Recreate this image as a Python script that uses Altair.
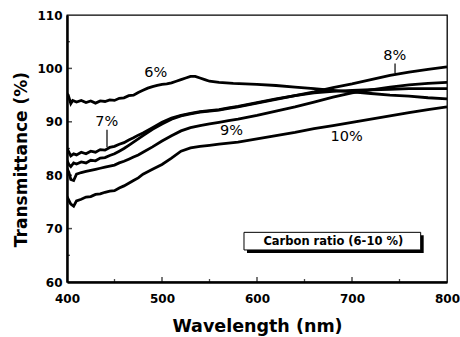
import altair as alt
import pandas as pd

# ---- data ----
wl6 = [400,402,404,406,410,415,420,425,430,435,440,445,450,455,460,465,470,475,480,485,490,495,500,505,510,515,520,525,530,535,540,545,550,560,575,600,620,640,660,680,700,720,740,760,780,800]
t6 = [95.3,94.6,93.4,94.0,93.7,94.0,93.6,93.9,93.5,93.9,93.8,94.1,94.0,94.4,94.5,94.9,95.0,95.5,95.9,96.3,96.6,96.8,97.0,97.1,97.3,97.6,97.9,98.2,98.5,98.5,98.2,97.9,97.6,97.4,97.2,97.0,96.8,96.5,96.2,95.9,95.6,95.3,95.0,94.8,94.5,94.3]

wl = [400,402,404,407,410,415,420,425,430,435,440,445,450,455,460,465,470,475,480,490,500,510,520,530,540,550,560,570,580,600,620,640,660,680,700,720,740,760,780,800]
t7 = [85.0,84.3,83.6,84.0,83.8,84.3,84.0,84.5,84.3,84.8,84.7,85.2,85.4,85.8,86.1,86.6,87.0,87.5,87.9,88.9,89.9,90.7,91.2,91.6,91.9,92.1,92.3,92.6,92.9,93.6,94.3,94.9,95.4,95.7,95.9,96.0,96.1,96.2,96.2,96.2]
t8 = [82.8,82.0,81.6,82.3,82.1,82.5,82.3,82.8,82.7,83.2,83.3,83.7,84.0,84.5,85.0,85.6,86.2,86.8,87.4,88.6,89.6,90.5,91.1,91.5,91.8,92.0,92.2,92.5,92.8,93.5,94.2,94.9,95.6,96.4,97.1,97.9,98.7,99.3,99.8,100.3]
t9 = [81.3,80.5,79.2,79.0,80.2,80.5,80.7,80.9,81.1,81.3,81.5,81.7,81.9,82.3,82.6,83.0,83.4,83.8,84.3,85.3,86.4,87.4,88.3,88.9,89.3,89.6,89.9,90.2,90.5,91.2,92.0,92.8,93.7,94.6,95.4,96.0,96.5,96.9,97.2,97.4]
t10 = [76.0,75.3,74.6,74.2,75.2,75.5,75.9,76.0,76.4,76.5,76.8,77.0,77.1,77.6,78.0,78.5,79.0,79.5,80.2,81.1,82.0,83.2,84.5,85.1,85.4,85.6,85.8,86.0,86.2,86.8,87.4,88.0,88.7,89.3,89.9,90.5,91.1,91.7,92.3,92.8]

series_names = ["6%", "7%", "8%", "9%", "10%"]

# curve labels (text, wavelength, transmittance)
lab_text = ["6%", "7%", "8%", "9%", "10%"]
lab_wl = [493.4, 441.8, 745.0, 573.2, 694.4]
lab_val = [99.1, 89.9, 102.4, 88.2, 87.2]

# leader lines (wavelength, from, to)
lead_wl = [442.1, 745.3]
lead_y1 = [88.5, 100.9]
lead_y2 = [85.3, 99.1]

# legend box
box_text = "Carbon ratio (6-10 %)"
box_x = [586.3, 772.3]
box_y = [66.0, 69.3]
box_center = [680.3, 67.5]

# axis ticks
x_major = [500, 600, 700]
x_minor = [450, 550, 650, 750]
y_major = [70, 80, 90, 100]
y_minor = [65, 75, 85, 95, 105]

# ---- build tables ----
rows = []
for w, t in zip(wl6, t6):
    rows.append({"wl": w, "T": t, "s": "6%"})
for name, arr in zip(series_names[1:], [t7, t8, t9, t10]):
    for w, t in zip(wl, arr):
        rows.append({"wl": w, "T": t, "s": name})
df = pd.DataFrame(rows)

xs = alt.Scale(domain=[400, 800], nice=False, zero=False)
ys = alt.Scale(domain=[60, 110], nice=False, zero=False)

FONT = "DejaVu Sans"

lines = alt.Chart(df).mark_line(color="black", strokeWidth=2.8, clip=True).encode(
    x=alt.X("wl:Q", scale=xs, axis=alt.Axis(
        values=[400, 500, 600, 700, 800], format="d", title="Wavelength (nm)",
        labelFont=FONT, labelFontWeight="bold", labelFontSize=12, labelColor="black",
        labelPadding=11, labelFlush=False, labelOverlap=False,
        ticks=False, tickSize=0, grid=False,
        domainColor="black", domainWidth=2.5,
        titleFont=FONT, titleFontWeight="bold", titleFontSize=17.5, titleColor="black",
        titleY=49, titleBaseline="alphabetic")),
    y=alt.Y("T:Q", scale=ys, axis=alt.Axis(
        values=[60, 70, 80, 90, 100, 110], format="d", title="Transmittance (%)",
        labelFont=FONT, labelFontWeight="bold", labelFontSize=12, labelColor="black",
        labelPadding=5, labelFlush=False, labelOverlap=False,
        ticks=False, tickSize=0, grid=False,
        domainColor="black", domainWidth=2.5,
        titleFont=FONT, titleFontWeight="bold", titleFontSize=17, titleColor="black",
        titleX=-41, titleY=144, titleBaseline="alphabetic")),
    detail="s:N",
)

labdf = pd.DataFrame({"text": lab_text, "wl": lab_wl, "T": lab_val})
labels = alt.Chart(labdf).mark_text(font=FONT, fontSize=14.5, color="black",
                                    align="center", baseline="middle").encode(
    x=alt.X("wl:Q", scale=xs), y=alt.Y("T:Q", scale=ys), text="text:N")

leaddf = pd.DataFrame({"wl": lead_wl, "y1": lead_y1, "y2": lead_y2})
leaders = alt.Chart(leaddf).mark_rule(color="black", strokeWidth=1.2).encode(
    x=alt.X("wl:Q", scale=xs), y=alt.Y("y1:Q", scale=ys), y2="y2:Q")

boxdf = pd.DataFrame({"x1": [box_x[0]], "x2": [box_x[1]], "y1": [box_y[0]], "y2": [box_y[1]],
                      "cx": [box_center[0]], "cy": [box_center[1]], "text": [box_text]})
shadow = alt.Chart(boxdf).mark_rect(color="black", xOffset=3, x2Offset=3, yOffset=3, y2Offset=3).encode(
    x=alt.X("x1:Q", scale=xs), x2="x2:Q", y=alt.Y("y1:Q", scale=ys), y2="y2:Q")
box = alt.Chart(boxdf).mark_rect(fill="white", stroke="black", strokeWidth=1).encode(
    x=alt.X("x1:Q", scale=xs), x2="x2:Q", y=alt.Y("y1:Q", scale=ys), y2="y2:Q")
boxtext = alt.Chart(boxdf).mark_text(font=FONT, fontWeight="bold", fontSize=11.5, color="black",
                                     align="center", baseline="middle").encode(
    x=alt.X("cx:Q", scale=xs), y=alt.Y("cy:Q", scale=ys), text="text:N")

xt_major = alt.Chart(pd.DataFrame({"v": x_major, "b": [60] * len(x_major)})).mark_tick(
    orient="vertical", color="black", size=5, thickness=1.5, yOffset=-2.5).encode(
    x=alt.X("v:Q", scale=xs), y=alt.Y("b:Q", scale=ys))
xt_minor = alt.Chart(pd.DataFrame({"v": x_minor, "b": [60] * len(x_minor)})).mark_tick(
    orient="vertical", color="black", size=3, thickness=1.3, yOffset=-1.5).encode(
    x=alt.X("v:Q", scale=xs), y=alt.Y("b:Q", scale=ys))
yt_major = alt.Chart(pd.DataFrame({"v": y_major, "b": [400] * len(y_major)})).mark_tick(
    orient="horizontal", color="black", size=5, thickness=1.5, xOffset=2.5).encode(
    y=alt.Y("v:Q", scale=ys), x=alt.X("b:Q", scale=xs))
yt_minor = alt.Chart(pd.DataFrame({"v": y_minor, "b": [400] * len(y_minor)})).mark_tick(
    orient="horizontal", color="black", size=3, thickness=1.3, xOffset=1.5).encode(
    y=alt.Y("v:Q", scale=ys), x=alt.X("b:Q", scale=xs))

chart = alt.layer(
    lines, leaders, labels, shadow, box, boxtext, xt_major, xt_minor, yt_major, yt_minor
).properties(
    width=380, height=267,
    autosize=alt.AutoSizeParams(type="none"),
    padding={"left": 67, "top": 15, "right": 13, "bottom": 55},
    background="white",
).configure_view(stroke="black", strokeWidth=1.3)

chart.save("out.html", embed_options={"renderer": "svg", "actions": False})
